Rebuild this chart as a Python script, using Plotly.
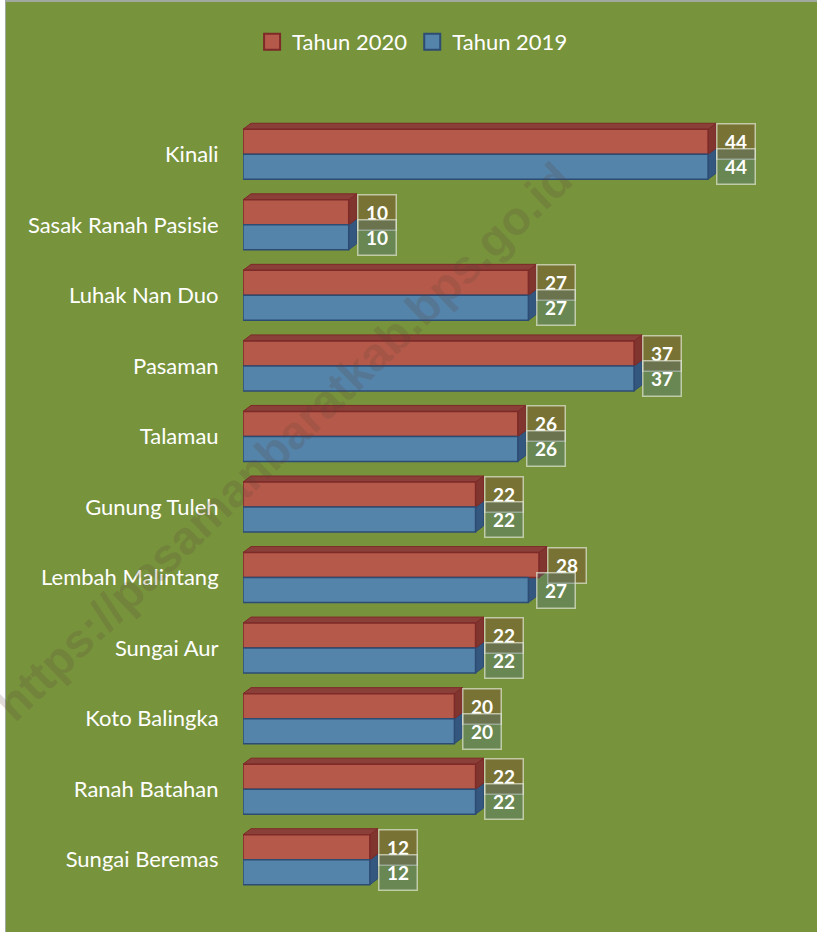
import plotly.graph_objects as go

categories = ["Kinali", "Sasak Ranah Pasisie", "Luhak Nan Duo", "Pasaman", "Talamau",
              "Gunung Tuleh", "Lembah Malintang", "Sungai Aur", "Koto Balingka",
              "Ranah Batahan", "Sungai Beremas"]
values_2020 = [44, 10, 27, 37, 26, 22, 28, 22, 20, 22, 12]
values_2019 = [44, 10, 27, 37, 26, 22, 27, 22, 20, 22, 12]
series_names = ["Tahun 2020", "Tahun 2019"]
watermark_text = "https://pasamanbaratkab.bps.go.id"

W, H = 817, 932
ML, MR, MT, MB = 243, 4, 119, 37
PW, PH = W - ML - MR, H - MT - MB
PX_PER_UNIT = 10.57
XMAX = PW / PX_PER_UNIT
N = len(categories)
PX_PER_CAT = PH / N

BG = "#77933C"
face = ["#B55A4A", "#5584AA"]
edge = ["#7E2A28", "#2D4C74"]
top_col = ["#8A3F38", "#3B5F88"]
side_col = ["#80352F", "#34577F"]
label_bg = ["rgba(125,70,45,0.42)", "rgba(80,115,125,0.35)"]
FONT = "Lato, Open Sans, sans-serif"

bw = 25 / PX_PER_CAT
dx = 8 / PX_PER_UNIT
dy = 6 / PX_PER_CAT

ypos = list(range(N))
fig = go.Figure()
all_vals = [values_2020, values_2019]
offsets = [-bw, 0.0]
for s in range(2):
    fig.add_trace(go.Bar(
        y=ypos, x=all_vals[s], orientation="h", name=series_names[s],
        width=bw, offset=offsets[s], showlegend=False,
        marker=dict(color=face[s], line=dict(color=edge[s], width=1.5)),
        hoverinfo="skip",
    ))
# legend entries
for s in range(2):
    fig.add_trace(go.Scatter(
        x=[None], y=[None], mode="markers", name=series_names[s],
        marker=dict(symbol="square", size=16, color=face[s],
                    line=dict(color=edge[s], width=2)),
        showlegend=True,
    ))

shapes = []
annotations = []
# 3D faces: draw 2019 first so 2020 overlaps
for s in [1, 0]:
    for i, v in enumerate(all_vals[s]):
        ytop = i + offsets[s]
        ybot = ytop + bw
        shapes.append(dict(
            type="path", layer="below", xref="x", yref="y",
            path=f"M{v},{ytop} L{v+dx},{ytop-dy} L{v+dx},{ybot-dy} L{v},{ybot} Z",
            fillcolor=side_col[s], line=dict(color=edge[s], width=1)))
        shapes.append(dict(
            type="path", layer="below", xref="x", yref="y",
            path=f"M0,{ytop} L{v},{ytop} L{v+dx},{ytop-dy} L{dx},{ytop-dy} Z",
            fillcolor=top_col[s], line=dict(color=edge[s], width=1)))

for s in range(2):
    for i, v in enumerate(all_vals[s]):
        annotations.append(dict(
            x=v, y=i + offsets[s] + bw / 2, xref="x", yref="y",
            text=f"<b>{v}</b>", showarrow=False, xanchor="left", yanchor="middle",
            xshift=8, width=25, height=22, borderpad=6,
            bgcolor=label_bg[s], bordercolor="rgba(225,230,210,0.7)", borderwidth=1.5,
            font=dict(family=FONT, size=19, color="white")))


def px_to_paper_x(px):
    return (px - ML) / PW


def px_to_paper_y(py):
    return (H - MB - py) / PH


# watermark
annotations.append(dict(
    x=px_to_paper_x(283), y=px_to_paper_y(441), xref="paper", yref="paper",
    text=f"<b>{watermark_text}</b>", showarrow=False,
    textangle=-44, xanchor="center", yanchor="middle",
    font=dict(family="Arial, Liberation Sans, sans-serif", size=47,
              color="rgba(95,65,55,0.2)")))

# left white strip and top grey line (page border)
shapes.append(dict(type="rect", xref="paper", yref="paper", layer="above",
                   x0=px_to_paper_x(0), x1=px_to_paper_x(5),
                   y0=px_to_paper_y(H), y1=px_to_paper_y(0),
                   fillcolor="white", line=dict(width=0)))
shapes.append(dict(type="rect", xref="paper", yref="paper", layer="above",
                   x0=px_to_paper_x(5), x1=px_to_paper_x(6),
                   y0=px_to_paper_y(H), y1=px_to_paper_y(0),
                   fillcolor="#A0A8A0", line=dict(width=0)))
shapes.append(dict(type="rect", xref="paper", yref="paper", layer="above",
                   x0=px_to_paper_x(5), x1=px_to_paper_x(W),
                   y0=px_to_paper_y(2), y1=px_to_paper_y(0),
                   fillcolor="#A0A8A0", line=dict(width=0)))

fig.update_layout(
    width=W, height=H,
    margin=dict(l=ML, r=MR, t=MT, b=MB, pad=0),
    paper_bgcolor=BG, plot_bgcolor="rgba(0,0,0,0)",
    barmode="overlay",
    showlegend=True,
    legend=dict(orientation="h", xref="container", yref="container",
                x=0.505, xanchor="center", y=1 - 42 / H, yanchor="middle",
                font=dict(family=FONT, size=22, color="white"),
                bgcolor="rgba(0,0,0,0)", itemwidth=30, traceorder="normal"),
    xaxis=dict(range=[0, XMAX], visible=False, fixedrange=True),
    yaxis=dict(range=[N - 0.5, -0.5], tickmode="array", tickvals=ypos,
               ticktext=categories, showgrid=False, zeroline=False, showline=False,
               ticks="outside", ticklen=19, tickcolor="rgba(0,0,0,0)",
               tickfont=dict(family=FONT, size=22, color="white"),
               fixedrange=True),
    shapes=shapes, annotations=annotations,
)

fig.write_html("out.html", config={"displayModeBar": False},
               post_script="document.body.style.margin='0';document.body.style.overflow='hidden';")
